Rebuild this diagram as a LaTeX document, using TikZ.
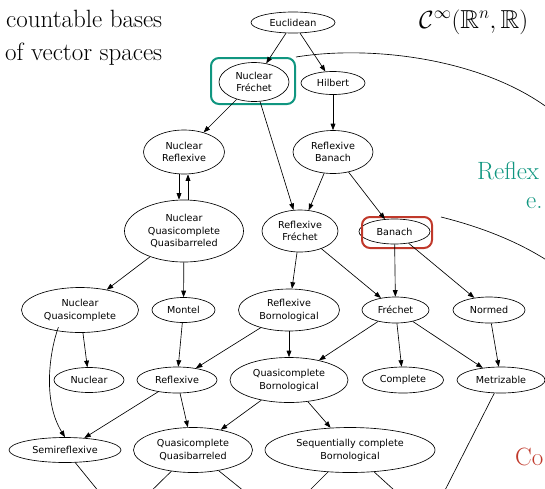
\documentclass[tikz,border=0pt]{standalone}
\usepackage{amssymb}
\usepackage{fontspec}
\newfontfamily\nodefont{DejaVu Sans}
\usetikzlibrary{shapes.geometric,arrows.meta}
\definecolor{tealgreen}{RGB}{16,150,128}
\definecolor{boxred}{RGB}{192,57,43}
\begin{document}
\begin{tikzpicture}[x=1pt,y=-1pt,
  prop/.style={ellipse, draw, line width=0.65pt, inner sep=0pt, align=center,
    font=\nodefont\fontsize{9.6}{12.7}\selectfont},
  imp/.style={-{Triangle[length=6.5pt,width=4.8pt]}, line width=0.65pt},
  cont/.style={line width=0.65pt},
  frame/.style={draw, rounded corners=8pt, line width=2pt, inner sep=0pt},
  slide/.style={font=\fontsize{25}{30}\selectfont, inner sep=0pt, anchor=base west}]
\useasboundingbox (0,0) rectangle (545,488);
\clip (0,0) rectangle (545,488);

% slide text
\node[slide] (t1) at (6,27.3) {countable bases};
\node[slide] (t2) at (5,60) {of vector spaces};
\node[slide, font=\fontsize{26}{30}\selectfont] (t3) at (419,28) {$\mathcal{C}^\infty(\mathbb{R}^n,\mathbb{R})$};
\node[slide, text=tealgreen] (t4) at (477,179) {Reflex};
\node[slide, text=tealgreen] (t5) at (526,208) {e.};
\node[slide, text=boxred] (t6) at (515,465) {Co};

% nodes
\node[prop, minimum width=84pt, minimum height=21pt] (eu) at (293,22.5) {Euclidean};
\node[prop, minimum width=70pt, minimum height=39pt] (nf) at (254,82) {Nuclear\\Fréchet};
\node[prop, minimum width=64pt, minimum height=23pt] (hi) at (333,83) {Hilbert};
\node[prop, minimum width=81pt, minimum height=44pt] (nr) at (184,152) {Nuclear\\Reflexive};
\node[prop, minimum width=80pt, minimum height=43pt] (rb) at (333,152) {Reflexive\\Banach};
\node[prop, minimum width=119pt, minimum height=62pt] (nqq) at (184,231) {Nuclear\\Quasicomplete\\Quasibarreled};
\node[prop, minimum width=76pt, minimum height=42pt] (rf) at (300,231) {Reflexive\\Fréchet};
\node[prop, minimum width=71pt, minimum height=25pt] (ba) at (394.5,231.5) {Banach};
\node[prop, minimum width=117pt, minimum height=45pt] (nq) at (80,310) {Nuclear\\Quasicomplete};
\node[prop, minimum width=63pt, minimum height=25pt] (mo) at (183.5,310) {Montel};
\node[prop, minimum width=101pt, minimum height=42pt] (rbo) at (289,310) {Reflexive\\Bornological};
\node[prop, minimum width=67pt, minimum height=26pt] (fr) at (395.5,310) {Fréchet};
\node[prop, minimum width=72pt, minimum height=26pt] (no) at (489,310) {Normed};
\node[prop, minimum width=70pt, minimum height=25pt] (nu) at (89,380) {Nuclear};
\node[prop, minimum width=80pt, minimum height=26pt] (re) at (177,380) {Reflexive};
\node[prop, minimum width=118pt, minimum height=45pt] (qb) at (289,380) {Quasicomplete\\Bornological};
\node[prop, minimum width=81pt, minimum height=26pt] (co) at (403,380) {Complete};
\node[prop, minimum width=88pt, minimum height=26pt] (me) at (501,380) {Metrizable};
\node[prop, minimum width=112pt, minimum height=25pt] (sr) at (65,450) {Semireflexive};
\node[prop, minimum width=119pt, minimum height=45pt] (qq) at (193,450) {Quasicomplete\\Quasibarreled};
\node[prop, minimum width=170pt, minimum height=45pt] (scb) at (350,450) {Sequentially complete\\Bornological};

% highlight frames
\node[frame, draw=tealgreen, minimum width=84pt, minimum height=46pt] (gbox) at (253,81) {};
\node[frame, draw=boxred, minimum width=70pt, minimum height=31pt] (rbox) at (397,232.5) {};

% off-picture end points
\coordinate (c1s) at (296,57);
\coordinate (c1e) at (548,108);
\coordinate (c2s) at (441,217);
\coordinate (c2e) at (548,261);
\coordinate (o1) at (104,498);
\coordinate (o2) at (140,502);
\coordinate (o3) at (255,500);
\coordinate (o4) at (300,500);
\coordinate (o5) at (405,500);
\coordinate (o6) at (440,500);

% implications
\draw[imp] (eu) -- (nf);
\draw[imp] (eu) -- (hi);
\draw[imp] (nf) -- (nr);
\draw[imp] (nf) -- (rf);
\draw[imp] (hi) -- (rb);
\draw[imp] (rb) -- (rf);
\draw[imp] (rb) -- (ba);
\draw[imp] ([xshift=-5pt]nr.south) -- ([xshift=-5pt]nqq.north);
\draw[imp] ([xshift=4pt]nqq.north) -- ([xshift=4pt]nr.south);
\draw[imp] (nqq) -- (nq);
\draw[imp] (nqq) -- (mo);
\draw[imp] (rf) -- (rbo);
\draw[imp] (rf) -- (fr);
\draw[imp] (ba) -- (fr);
\draw[imp] (ba) -- (no);
\draw[imp] (nq) -- (nu);
\draw[imp] (nq.south west) ++(20pt,-1pt) .. controls (50,350) and (42,400) .. (sr.north);
\draw[imp] (mo) -- (re);
\draw[imp] (rbo) -- (re);
\draw[imp] (rbo) -- (qb);
\draw[imp] (fr) -- (qb);
\draw[imp] (fr) -- (co);
\draw[imp] (fr) -- (me);
\draw[imp] (no) -- (me);
\draw[imp] (re) -- (sr);
\draw[imp] (re) -- (qq);
\draw[imp] (qb) -- (qq);
\draw[imp] (qb) -- (scb);

% edges leaving the picture
\draw[cont] (sr) -- (o1);
\draw[cont] (qq) -- (o2);
\draw[cont] (qq) -- (o3);
\draw[cont] (scb) -- (o4);
\draw[cont] (scb) -- (o5);
\draw[cont] (me) -- (o6);

% long curves
\draw[cont] (c1s) .. controls (370,45) and (480,58) .. (c1e);
\draw[cont] (c2s) .. controls (485,228) and (520,243) .. (c2e);
\end{tikzpicture}
\end{document}
